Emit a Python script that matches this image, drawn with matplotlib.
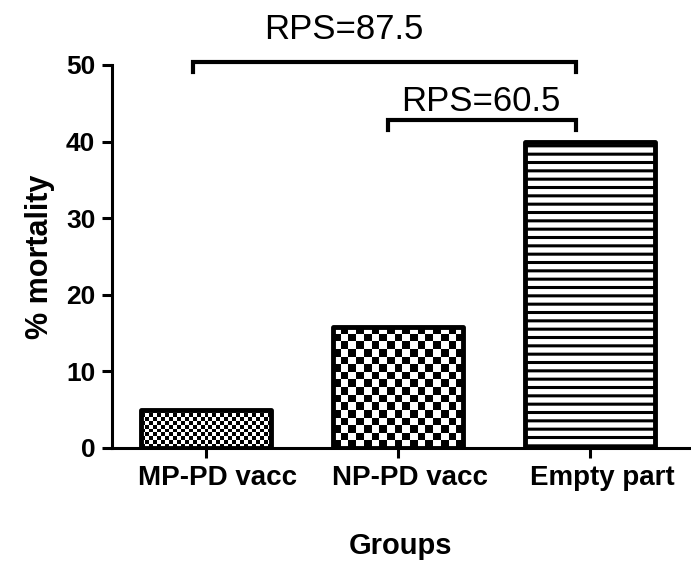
import numpy as np
import matplotlib
matplotlib.use("Agg")
import matplotlib.pyplot as plt
import matplotlib.transforms as mtransforms

groups = ["MP-PD vacc", "NP-PD vacc", "Empty part"]
mortality = [5.0, 15.8, 40.0]
rps_labels = ["RPS=87.5", "RPS=60.5"]

plt.rcParams['font.family'] = ['Liberation Sans', 'DejaVu Sans']
plt.rcParams['hatch.linewidth'] = 2.2

fig = plt.figure(figsize=(6.91, 5.64), dpi=100)
ax = fig.add_axes([0.162, 0.2057, 0.836, 0.6791])

x = np.arange(len(groups))
bars = ax.bar(x, mortality, width=0.68, color='none', edgecolor='black',
              linewidth=3.5, joinstyle='round', zorder=3)
bars[2].set_hatch('--')

# checkerboard fills for the first two bars (cells across, cells up)
cells = [(33, 10), (17, 16)]
for b, (nx, ny) in zip(bars[:2], cells):
    board = (np.add.outer(np.arange(ny), np.arange(nx)) % 2).astype(float)
    x0, y0 = b.get_x(), b.get_y()
    im = ax.imshow(board, cmap='gray', interpolation='nearest', aspect='auto',
                   extent=[x0, x0 + b.get_width(), y0, y0 + b.get_height()],
                   zorder=2, origin='lower')
    im.set_clip_path(b)

ax.set_xlim(-0.49, 2.52)
ax.set_ylim(0, 50)
ax.set_yticks([0, 10, 20, 30, 40, 50])
ax.set_xticks(x)
ax.set_xticklabels(groups, fontsize=20, fontweight='bold')
for lab in ax.get_yticklabels():
    lab.set_fontsize(19)
    lab.set_fontweight('bold')

ax.spines['top'].set_visible(False)
ax.spines['right'].set_visible(False)
ax.spines['left'].set_linewidth(2.2)
ax.spines['bottom'].set_linewidth(2.2)
ax.tick_params(axis='both', width=2.2, length=7, pad=5)

ax.set_xlabel("Groups", fontsize=21, fontweight='bold', labelpad=30)
ax.set_ylabel("% mortality", fontsize=22, fontweight='bold', labelpad=8)

# brackets
def bracket(x1, x2, y, h, text, tx, ty):
    ax.plot([x1, x1, x2, x2], [y - h, y, y, y - h], color='black', lw=3,
            clip_on=False, solid_joinstyle='miter', zorder=4)
    ax.text(tx, ty, text, ha='center', va='center', fontsize=25, clip_on=False)

bracket(-0.07, 1.93, 50.4, 1.3, rps_labels[0], 0.72, 54.6)
bracket(0.95, 1.93, 42.8, 1.3, rps_labels[1], 1.43, 45.2)

# labels sit a little right of the ticks in the original
shift = mtransforms.ScaledTranslation(0.12, 0, fig.dpi_scale_trans)
for tick in ax.xaxis.get_major_ticks():
    tick.label1.set_transform(tick.label1.get_transform() + shift)

fig.savefig("out.png", dpi=100)
